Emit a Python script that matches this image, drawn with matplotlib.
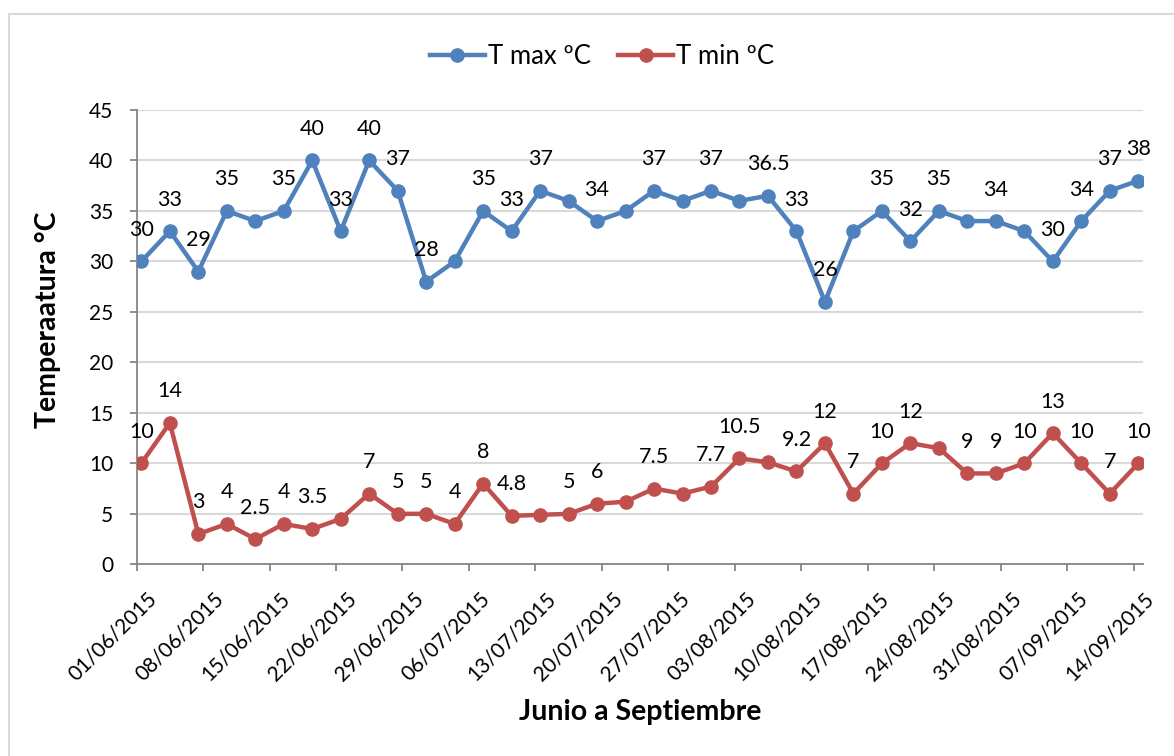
import matplotlib
matplotlib.use("Agg")
import matplotlib.pyplot as plt
import matplotlib.patches as patches
from matplotlib.transforms import offset_copy
import pandas as pd

plt.rcParams['font.family'] = ['Lato', 'DejaVu Sans']

# one reading every 3 days, 01/06/2015 .. 14/09/2015
dates = pd.date_range('2015-06-01', '2015-09-14', freq='3D')
tick_dates = pd.date_range('2015-06-01', '2015-09-14', freq='7D')

t_max = [30, 33, 29, 35, 34, 35, 40, 33, 40, 37, 28, 30, 35, 33, 37, 36, 34, 35,
         37, 36, 37, 36, 36.5, 33, 26, 33, 35, 32, 35, 34, 34, 33, 30, 34, 37, 38]
t_min = [10, 14, 3, 4, 2.5, 4, 3.5, 4.5, 7, 5, 5, 4, 8, 4.8, 4.9, 5, 6, 6.2,
         7.5, 7, 7.7, 10.5, 10.1, 9.2, 12, 7, 10, 12, 11.5, 9, 9, 10, 13, 10, 7, 10]

# which points carry a data label in the original sheet
t_max_labelled = [0, 1, 2, 3, 5, 6, 7, 8, 9, 10, 12, 13, 14, 16, 18, 20, 22, 23,
                  24, 26, 27, 28, 30, 32, 33, 34, 35]
t_min_labelled = [0, 1, 2, 3, 4, 5, 6, 8, 9, 10, 11, 12, 13, 15, 16, 18, 20, 21,
                  23, 24, 25, 26, 27, 29, 30, 31, 32, 33, 34, 35]

series = [
    ("T max ºC", t_max, t_max_labelled, "#4F81BD"),
    ("T min ºC", t_min, t_min_labelled, "#C0504D"),
]

W, H = 1174, 756
fig = plt.figure(figsize=(W / 100, H / 100), dpi=100)
# axes box in pixels: x 136.6..1143, y 110..564.3
ax = fig.add_axes([136.6 / W, 1 - 564.3 / H, (1143 - 136.6) / W, (564.3 - 110) / H])

# outer chart border (runs off the right and bottom edges)
fig.patches.append(patches.Rectangle((9 / W, -0.05), 1.2, 1 - 13.5 / H + 0.05,
                                     transform=fig.transFigure, fill=False,
                                     edgecolor='#D9D9D9', linewidth=1.5))

x = dates + pd.Timedelta(hours=12)  # Excel puts points mid-day
for name, vals, labelled, col in series:
    ax.plot(x, vals, color=col, linewidth=3.2, marker='o', markersize=9.5,
            markerfacecolor=col, markeredgecolor=col, label=name,
            solid_joinstyle='round', zorder=3)
    lab_tr = offset_copy(ax.transData, fig=fig, x=0, y=22.7, units='points')
    for i in labelled:
        v = vals[i]
        ax.text(x[i], v, f"{v:g}", transform=lab_tr, ha='center', va='center',
                fontsize=15.5, color='black', zorder=4)

ax.set_ylim(0, 45)
ax.set_yticks(range(0, 46, 5))
ax.set_xlim(pd.Timestamp('2015-06-01'), pd.Timestamp('2015-09-15'))
ax.set_xticks(tick_dates)
ax.set_xticklabels([])

ax.grid(axis='y', color='#D9D9D9', linewidth=1.5)
ax.set_axisbelow(True)
for s in ['top', 'right']:
    ax.spines[s].set_visible(False)
for s in ['left', 'bottom']:
    ax.spines[s].set_color('#868686')
    ax.spines[s].set_linewidth(1.3)

ax.tick_params(axis='both', colors='#868686', length=4.8, width=1.3, labelcolor='black',
               labelsize=15)
ax.tick_params(axis='y', pad=12)

# rotated date labels, drawn by hand so they sit like Excel's
xlab_tr = offset_copy(ax.get_xaxis_transform(), fig=fig, x=7.5, y=-17.5, units='points')
for d in tick_dates:
    ax.text(d, 0, d.strftime('%d/%m/%Y'), transform=xlab_tr, rotation=45,
            rotation_mode='anchor', ha='right', va='top', fontsize=15, clip_on=False)

fig.text(48 / W, 1 - 320 / H, "Temperaatura °C", rotation=90, ha='center', va='center',
         fontsize=20.5, fontweight='bold')
fig.text(640 / W, 1 - 712 / H, "Junio a Septiembre", ha='center', va='center',
         fontsize=20.5, fontweight='bold')

fig.legend(loc='center', bbox_to_anchor=(602 / W, 1 - 56 / H), ncol=2, frameon=False,
           fontsize=18.5, handlelength=2.15, handletextpad=0.12, columnspacing=1.05)

fig.savefig("out.png", dpi=100)
